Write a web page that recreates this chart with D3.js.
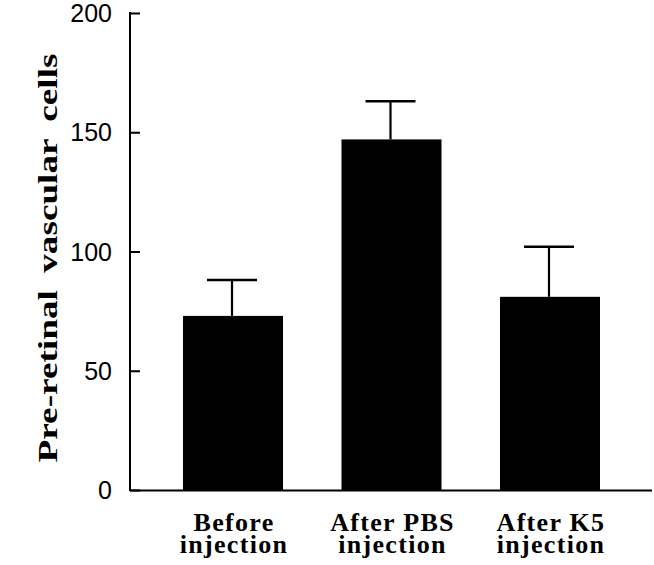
<!DOCTYPE html>
<html>
<head>
<meta charset="utf-8">
<script src="https://cdn.jsdelivr.net/npm/d3@7"></script>
<style>
  body { margin: 0; background: #fff; }
</style>
</head>
<body>
<div id="chart"></div>
<script>
// data
const groups = [["Before", "injection"], ["After PBS", "injection"], ["After K5", "injection"]];
const means = [73, 147, 81];
const errTop = [88, 163, 102];
const yTicks = [0, 50, 100, 150, 200];

const W = 654, H = 565;
const margin = {top: 13, right: 2, bottom: 75, left: 130};

const svg = d3.select("#chart")
  .append("svg")
  .attr("width", W)
  .attr("height", H);

const g = svg.append("g")
  .attr("transform", `translate(${margin.left}, ${margin.top})`);

const width = W - margin.left - margin.right,
      height = H - margin.top - margin.bottom;

// x scale: bands for the three groups
const x = d3.scaleBand()
  .domain(d3.range(groups.length))
  .range([53, 470])
  .paddingInner(0.369)
  .paddingOuter(0);

const y = d3.scaleLinear()
  .domain([0, 200])
  .range([height, 0]);

const mid = i => x(i) + x.bandwidth() / 2;

// bars
g.selectAll("rect.bar")
  .data(means)
  .join("rect")
    .attr("class", "bar")
    .attr("x", (d, i) => x(i))
    .attr("width", x.bandwidth())
    .attr("y", d => y(d))
    .attr("height", d => height - y(d))
    .attr("fill", "#000");

// error bars (upper only)
const cap = 50;
g.selectAll("line.stem")
  .data(errTop)
  .join("line")
    .attr("class", "stem")
    .attr("x1", (d, i) => mid(i) - 1)
    .attr("x2", (d, i) => mid(i) - 1)
    .attr("y1", (d, i) => y(means[i]))
    .attr("y2", d => y(d))
    .attr("stroke", "#000")
    .attr("stroke-width", 2.2);

g.selectAll("line.cap")
  .data(errTop)
  .join("line")
    .attr("class", "cap")
    .attr("x1", (d, i) => mid(i) - 1 - cap / 2)
    .attr("x2", (d, i) => mid(i) - 1 + cap / 2)
    .attr("y1", d => y(d))
    .attr("y2", d => y(d))
    .attr("stroke", "#000")
    .attr("stroke-width", 2.5);

// Y axis, ticks pointing inward
const yAxis = g.append("g")
  .call(d3.axisRight(y).tickValues(yTicks).tickSize(10).tickFormat(""));
yAxis.select(".domain").remove();
yAxis.selectAll(".tick line").attr("stroke", "#000").attr("stroke-width", 2);

g.append("line")
  .attr("x1", 0).attr("x2", 0)
  .attr("y1", y(200) - 1).attr("y2", height + 1)
  .attr("stroke", "#000").attr("stroke-width", 2);

// tick labels
g.selectAll("text.ytick")
  .data(yTicks)
  .join("text")
    .attr("class", "ytick")
    .attr("x", -18)
    .attr("y", d => y(d))
    .attr("dy", "0.36em")
    .attr("text-anchor", "end")
    .style("font-family", "'Liberation Sans', Arial, sans-serif")
    .style("font-size", "25px")
    .attr("fill", "#000")
    .text(d => d);

// X axis line
g.append("line")
  .attr("x1", 0).attr("x2", width)
  .attr("y1", height + 0.5).attr("y2", height + 0.5)
  .attr("stroke", "#000").attr("stroke-width", 2);

// category labels
const lab = g.selectAll("text.xlab")
  .data(groups)
  .join("text")
    .attr("class", "xlab")
    .attr("text-anchor", "middle")
    .style("font-family", "'Liberation Serif', 'Times New Roman', serif")
    .style("font-weight", "bold")
    .style("font-size", "26px")
    .style("letter-spacing", "1.3px")
    .attr("fill", "#000");

lab.each(function(d, i) {
  d3.select(this).selectAll("tspan")
    .data(d)
    .join("tspan")
      .attr("x", mid(i) + 1)
      .attr("y", (t, k) => height + 41 + k * 21.5)
      .text(t => t);
});

// Y axis title
svg.append("text")
  .attr("transform", `translate(57, 258) rotate(-90)`)
  .attr("text-anchor", "middle")
  .attr("textLength", 409)
  .attr("lengthAdjust", "spacingAndGlyphs")
  .style("font-family", "'Liberation Serif', 'Times New Roman', serif")
  .style("font-weight", "bold")
  .style("font-size", "28px")
  .style("word-spacing", "6px")
  .attr("fill", "#000")
  .text("Pre-retinal vascular cells");
</script>
</body>
</html>
